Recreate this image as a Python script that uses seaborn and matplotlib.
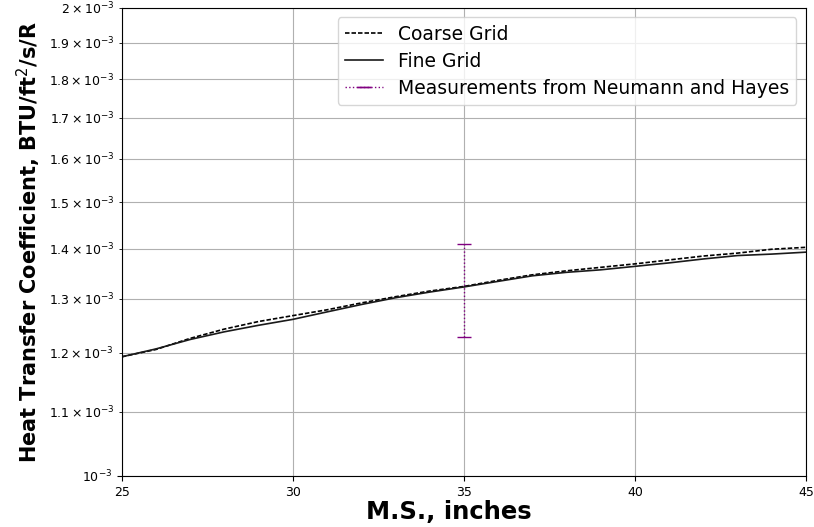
import matplotlib
matplotlib.use("Agg")
import matplotlib.pyplot as plt
from matplotlib.ticker import LogFormatterSciNotation, FixedLocator
from matplotlib.legend_handler import HandlerErrorbar
import seaborn as sns
import numpy as np
import pandas as pd

# Data
ms = [25, 26, 27, 28, 29, 30, 31, 32, 33, 34, 35, 36, 37, 38, 39, 40, 41, 42, 43, 44, 45]
coarse = [1.193, 1.206, 1.226, 1.243, 1.257, 1.268, 1.279, 1.292, 1.304, 1.315, 1.324,
          1.336, 1.347, 1.355, 1.362, 1.369, 1.377, 1.385, 1.391, 1.399, 1.403]
fine = [1.193, 1.207, 1.224, 1.238, 1.250, 1.261, 1.275, 1.289, 1.302, 1.313, 1.323,
        1.334, 1.345, 1.352, 1.357, 1.364, 1.371, 1.379, 1.386, 1.389, 1.393]
meas_x = [35]
meas_y = [1.319]
meas_err = [0.090]
scale = 1e-3
minor_ticks = [1.1, 1.2, 1.3, 1.4, 1.5, 1.6, 1.7, 1.8, 1.9, 2.0]

df = pd.DataFrame({
    "ms": ms,
    "coarse": np.array(coarse) * scale,
    "fine": np.array(fine) * scale,
})

fig = plt.figure(figsize=(8.14, 5.27), dpi=100)
ax = fig.add_axes([0.1495, 0.0968, 0.8405, 0.8882])

sns.lineplot(data=df, x="ms", y="coarse", ax=ax, color="black", linestyle=(0, (2.7, 1.2)),
             linewidth=1.2, label="Coarse Grid")
sns.lineplot(data=df, x="ms", y="fine", ax=ax, color="#1a1a1a", linestyle="-",
             linewidth=1.2, label="Fine Grid")
eb = ax.errorbar(meas_x, np.array(meas_y) * scale, yerr=np.array(meas_err) * scale,
                 color="purple", linestyle=":", capsize=5, linewidth=1,
                 label="Measurements from Neumann and Hayes")
for lc in eb[2]:
    lc.set_linestyle(":")

ax.set_yscale("log")
ax.set_xlim(25, 45)
ax.set_ylim(1e-3, 2e-3)
ax.set_xticks([25, 30, 35, 40, 45])
ax.yaxis.set_minor_locator(FixedLocator(np.array(minor_ticks) * scale))
ax.yaxis.set_minor_formatter(LogFormatterSciNotation(labelOnlyBase=False,
                                                     minor_thresholds=(np.inf, np.inf)))
ax.grid(True, which="both", color="#b0b0b0", linewidth=0.8)
ax.set_axisbelow(True)

ax.set_xlabel("M.S., inches", fontsize=17.5, fontweight="bold")
ax.xaxis.set_label_coords(0.478, -0.051)
ax.set_ylabel("Heat Transfer Coefficient, BTU/ft$^2$/s/R", fontsize=15, fontweight="bold")
ax.tick_params(which="both", labelsize=9)

ax.legend(loc="upper right", fontsize=13.5, handlelength=2.0, labelspacing=0.42,
          handler_map={eb: HandlerErrorbar(yerr_size=0.02)})

fig.savefig("out.png", dpi=100)
